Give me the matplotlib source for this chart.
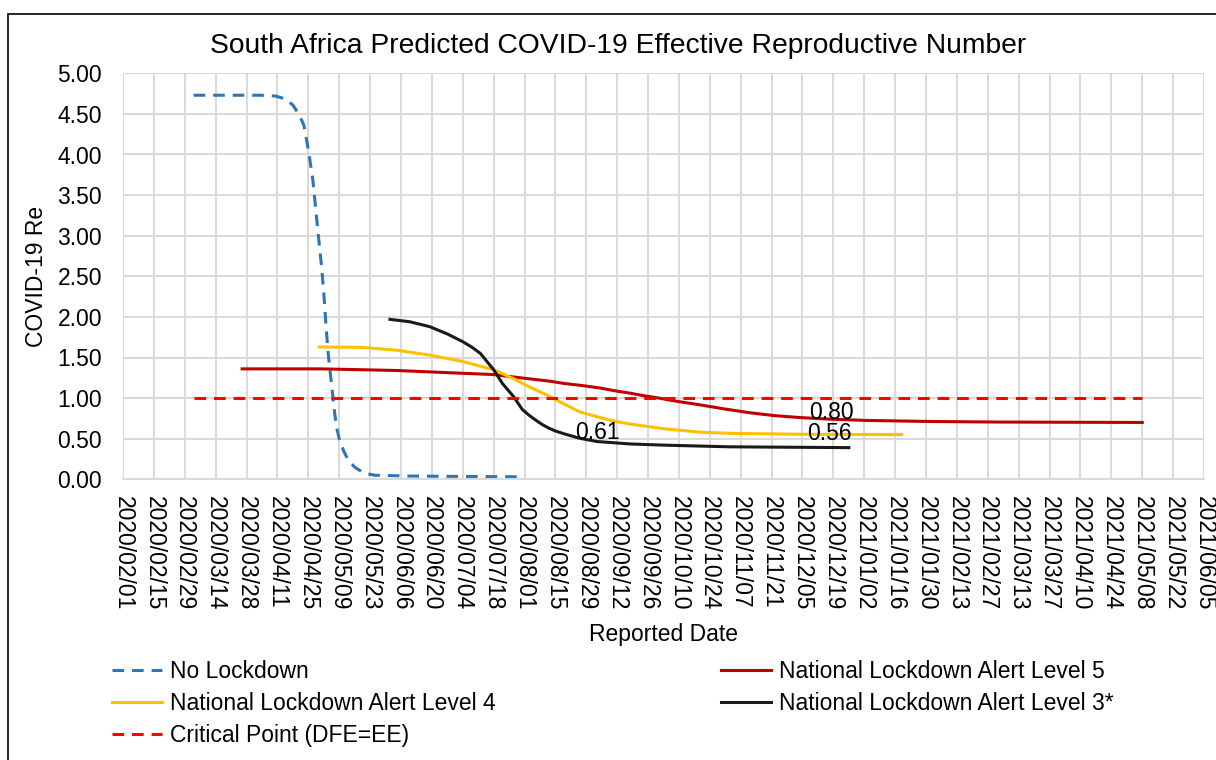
import numpy as np
import pandas as pd
import matplotlib
matplotlib.use("Agg")
import matplotlib.pyplot as plt
import matplotlib.dates as mdates
from matplotlib.patches import Rectangle

plt.rcParams['font.family'] = ['Liberation Sans', 'DejaVu Sans']

# No Lockdown
no_lock_dates = ["2020-03-04", "2020-04-03", "2020-04-10", "2020-04-14", "2020-04-18",
                 "2020-04-21", "2020-04-23", "2020-04-25", "2020-04-27", "2020-04-29",
                 "2020-05-01", "2020-05-02", "2020-05-03", "2020-05-04", "2020-05-06",
                 "2020-05-07", "2020-05-08", "2020-05-09", "2020-05-11", "2020-05-13",
                 "2020-05-16", "2020-05-20", "2020-05-25", "2020-06-10", "2020-08-01"]
no_lock_vals = [4.73, 4.73, 4.72, 4.69, 4.61, 4.48, 4.36, 4.06, 3.70, 3.15,
                2.62, 2.30, 1.90, 1.55, 1.05, 0.80, 0.62, 0.50, 0.35, 0.24,
                0.15, 0.08, 0.05, 0.04, 0.03]

# National Lockdown Alert Level 5
lvl5_dates = ["2020-03-26", "2020-05-01", "2020-06-04", "2020-06-30", "2020-07-18",
              "2020-07-27", "2020-08-04", "2020-08-12", "2020-08-19", "2020-08-27",
              "2020-09-04", "2020-09-11", "2020-09-18", "2020-09-24", "2020-10-01",
              "2020-10-08", "2020-10-20", "2020-10-31", "2020-11-11", "2020-11-22",
              "2020-12-04", "2020-12-18", "2021-01-03", "2021-02-01", "2021-03-04",
              "2021-05-08"]
lvl5_vals = [1.36, 1.36, 1.34, 1.31, 1.29, 1.26, 1.235, 1.21, 1.18, 1.155,
             1.125, 1.09, 1.06, 1.03, 1.00, 0.965, 0.915, 0.865, 0.82, 0.785,
             0.76, 0.74, 0.725, 0.712, 0.705, 0.70]

# National Lockdown Alert Level 4
lvl4_dates = ["2020-04-30", "2020-05-19", "2020-06-04", "2020-06-19", "2020-07-04",
              "2020-07-18", "2020-07-27", "2020-08-03", "2020-08-11", "2020-08-18",
              "2020-08-26", "2020-09-03", "2020-09-10", "2020-09-18", "2020-10-04",
              "2020-10-20", "2020-11-04", "2020-12-04", "2021-01-19"]
lvl4_vals = [1.63, 1.625, 1.59, 1.53, 1.45, 1.35, 1.24, 1.14, 1.04, 0.94,
             0.83, 0.77, 0.72, 0.68, 0.62, 0.58, 0.565, 0.555, 0.55]

# National Lockdown Alert Level 3*
lvl3_dates = ["2020-06-01", "2020-06-10", "2020-06-19", "2020-06-27", "2020-07-04",
              "2020-07-08", "2020-07-12", "2020-07-15", "2020-07-18", "2020-07-22",
              "2020-07-27", "2020-07-31", "2020-08-03", "2020-08-06", "2020-08-09",
              "2020-08-12", "2020-08-15", "2020-08-19", "2020-08-26", "2020-09-03",
              "2020-09-18", "2020-10-04", "2020-11-02", "2020-12-26"]
lvl3_vals = [1.97, 1.94, 1.88, 1.79, 1.695, 1.63, 1.55, 1.45, 1.35, 1.18,
             1.02, 0.86, 0.79, 0.73, 0.675, 0.63, 0.595, 0.56, 0.505, 0.465,
             0.435, 0.42, 0.40, 0.39]

# Critical Point (DFE=EE)
crit_dates = ["2020-03-04", "2021-05-08"]
crit_vals = [1.0, 1.0]

# data labels
label_texts = ["0.61", "0.80", "0.56"]
label_dates = ["2020-09-03", "2020-12-18", "2020-12-17"]
label_vals = [0.58, 0.82, 0.56]

tick_dates = pd.date_range("2020-02-01", "2021-06-05", freq="14D")

fig = plt.figure(figsize=(12.16, 7.6), dpi=100)
ax = fig.add_axes([123 / 1216, 1 - 479.3 / 760, (1204 - 123) / 1216, 406 / 760])

fs = 16.5
lw = 2.2
dash = (0, (3.8, 2.6))
ln_nl, = ax.plot(pd.to_datetime(no_lock_dates), no_lock_vals, color="#2e75b6",
                 lw=lw, ls=dash, label="No Lockdown")
ln_5, = ax.plot(pd.to_datetime(lvl5_dates), lvl5_vals, color="#c00000",
                lw=lw, label="National Lockdown Alert Level 5")
ln_4, = ax.plot(pd.to_datetime(lvl4_dates), lvl4_vals, color="#ffc000",
                lw=lw, label="National Lockdown Alert Level 4")
ln_3, = ax.plot(pd.to_datetime(lvl3_dates), lvl3_vals, color="#1a1a1a",
                lw=lw, label="National Lockdown Alert Level 3*")
ln_c, = ax.plot(pd.to_datetime(crit_dates), crit_vals, color="#ff0000",
                lw=lw, ls=dash, label="Critical Point (DFE=EE)")

for t, d, v in zip(label_texts, label_dates, label_vals):
    ax.text(pd.Timestamp(d), v, t, ha="center", va="center", fontsize=fs)

ax.set_xlim(tick_dates[0], tick_dates[-1])
ax.set_ylim(0, 5)
ax.set_xticks(tick_dates)
ax.xaxis.set_major_formatter(mdates.DateFormatter("%Y/%m/%d"))
ax.set_yticks(np.arange(0, 5.01, 0.5))
ax.yaxis.set_major_formatter(matplotlib.ticker.FormatStrFormatter("%.2f"))
plt.setp(ax.get_xticklabels(), rotation=270, ha="center", va="top")
ax.tick_params(axis="both", length=0, labelsize=fs)
ax.tick_params(axis="x", pad=12)
ax.tick_params(axis="y", pad=15)
ax.grid(True, color="#d9d9d9", lw=1.4)
ax.set_axisbelow(True)
for s in ["top", "right", "left"]:
    ax.spines[s].set_visible(False)
ax.spines["bottom"].set_color("#d9d9d9")
ax.spines["bottom"].set_linewidth(1.4)

ax.set_ylabel("COVID-19 Re", fontsize=fs, labelpad=7)
ax.set_xlabel("Reported Date", fontsize=fs, labelpad=9)
fig.text(618 / 1216, 1 - 46 / 760, "South Africa Predicted COVID-19 Effective Reproductive Number",
         ha="center", va="center", fontsize=20.3)

handles = [ln_nl, ln_4, ln_c, ln_5, ln_3]
fig.legend(handles=handles, labels=[h.get_label() for h in handles], ncol=2,
           loc="upper left", bbox_to_anchor=(112 / 1216, 1 - 660 / 760),
           frameon=False, fontsize=fs, handlelength=2.2, handletextpad=0.35,
           columnspacing=9.8, labelspacing=0.4, borderpad=0, borderaxespad=0)

fig.patches.append(Rectangle((8 / 1216, -0.05), 1.1, 1 - 14 / 760 + 0.05,
                             transform=fig.transFigure, fill=False,
                             edgecolor="black", lw=1.2))

fig.savefig("out.png", dpi=100)
